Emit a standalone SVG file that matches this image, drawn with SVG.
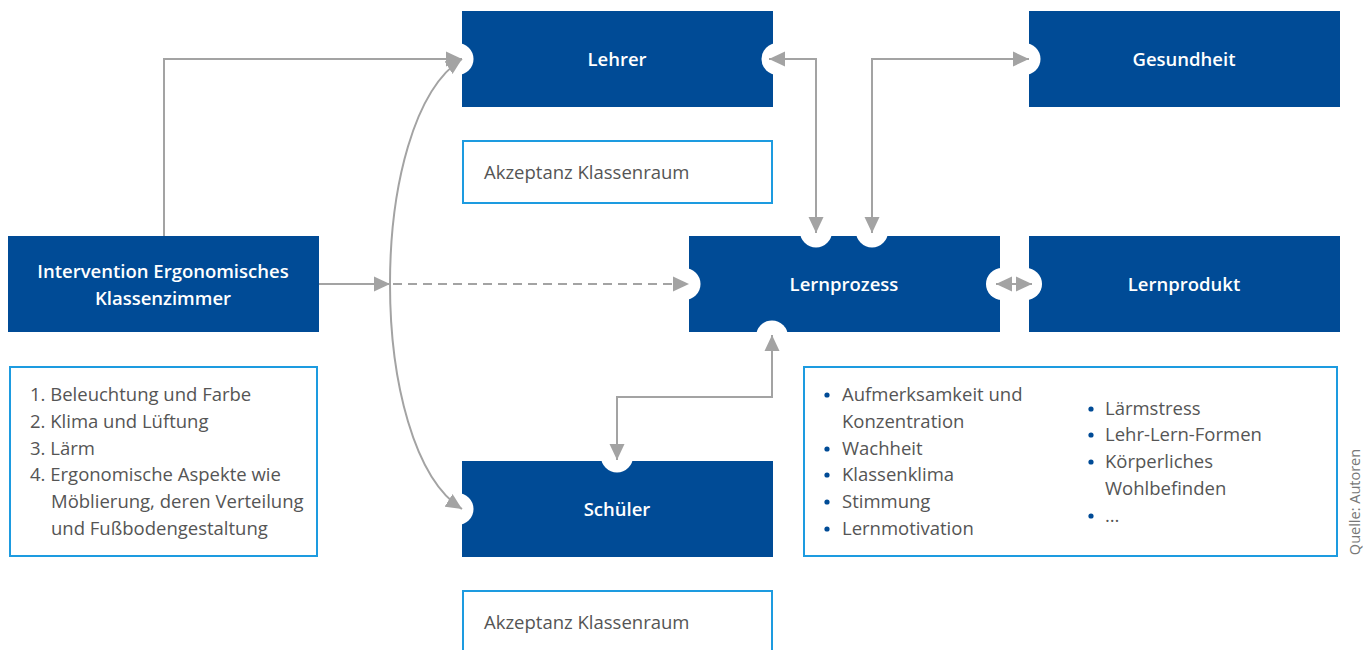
<svg xmlns="http://www.w3.org/2000/svg" width="1371" height="650" viewBox="0 0 1371 650">
<style>
.box{fill:#004b96}
.notch{fill:#fff}
.lbl{fill:#fff;font-family:"Open Sans","Noto Sans",sans-serif;font-weight:600;font-size:18.5px;text-anchor:middle}
.info{fill:#fff;stroke:#1d9be0;stroke-width:2}
.txt{fill:#555;font-family:"Open Sans","Noto Sans",sans-serif;font-size:18.5px}
.bul{fill:#004b96}
.con{fill:none;stroke:#a3a3a3;stroke-width:2}
.dash{stroke-dasharray:9 6}
.src{fill:#777;font-family:"Open Sans","Noto Sans",sans-serif;font-size:14.5px;text-anchor:middle}
</style>
<defs>
<marker id="ah" viewBox="0 0 16 16" refX="16" refY="8" markerWidth="16" markerHeight="16" markerUnits="userSpaceOnUse" orient="auto-start-reverse">
<path d="M0,0.5 L16,8 L0,15.5 z" fill="#a3a3a3"/>
</marker>
</defs>
<rect width="1371" height="650" fill="#fff"/>

<g id="lehrer">
<rect class="box" x="462" y="11" width="311" height="96"/>
<circle class="notch" cx="457.5" cy="59" r="16"/>
<circle class="notch" cx="777.5" cy="59" r="16"/>
<text class="lbl" x="617" y="65.5">Lehrer</text>
</g>
<g id="gesundheit">
<rect class="box" x="1029" y="11" width="311" height="96"/>
<circle class="notch" cx="1024.5" cy="59" r="16"/>
<text class="lbl" x="1184" y="65.5">Gesundheit</text>
</g>
<g id="akzeptanz-lehrer">
<rect class="info" x="463" y="141" width="309" height="62"/>
<text class="txt" x="484" y="179">Akzeptanz Klassenraum</text>
</g>
<g id="intervention">
<rect class="box" x="8" y="236" width="311" height="96"/>
<text class="lbl" x="163" y="277.5">Intervention Ergonomisches</text>
<text class="lbl" x="163" y="304.5">Klassenzimmer</text>
</g>
<g id="lernprozess">
<rect class="box" x="689" y="236" width="311" height="96"/>
<circle class="notch" cx="816" cy="231.5" r="16"/>
<circle class="notch" cx="872" cy="231.5" r="16"/>
<circle class="notch" cx="684.5" cy="284" r="16"/>
<circle class="notch" cx="1002" cy="284" r="16"/>
<circle class="notch" cx="772" cy="336.5" r="16"/>
<text class="lbl" x="844" y="290.5">Lernprozess</text>
</g>
<g id="lernprodukt">
<rect class="box" x="1029" y="236" width="311" height="96"/>
<circle class="notch" cx="1026" cy="284" r="16"/>
<text class="lbl" x="1184" y="290.5">Lernprodukt</text>
</g>
<g id="massnahmen">
<rect class="info" x="10" y="367" width="307" height="189"/>
<text class="txt" x="30" y="401">1. Beleuchtung und Farbe</text>
<text class="txt" x="30" y="428">2. Klima und Lüftung</text>
<text class="txt" x="30" y="455">3. Lärm</text>
<text class="txt" x="30" y="481">4. Ergonomische Aspekte wie</text>
<text class="txt" x="51" y="508">Möblierung, deren Verteilung</text>
<text class="txt" x="51" y="535">und Fußbodengestaltung</text>
</g>
<g id="faktoren">
<rect class="info" x="804" y="367" width="533" height="189"/>
<circle class="bul" cx="827" cy="395" r="2.6"/>
<text class="txt" x="842" y="401">Aufmerksamkeit und</text>
<text class="txt" x="842" y="428">Konzentration</text>
<circle class="bul" cx="827" cy="449" r="2.6"/>
<text class="txt" x="842" y="455">Wachheit</text>
<circle class="bul" cx="827" cy="475" r="2.6"/>
<text class="txt" x="842" y="481">Klassenklima</text>
<circle class="bul" cx="827" cy="502" r="2.6"/>
<text class="txt" x="842" y="508">Stimmung</text>
<circle class="bul" cx="827" cy="529" r="2.6"/>
<text class="txt" x="842" y="535">Lernmotivation</text>
<circle class="bul" cx="1091" cy="409" r="2.6"/>
<text class="txt" x="1105" y="415">Lärmstress</text>
<circle class="bul" cx="1091" cy="435" r="2.6"/>
<text class="txt" x="1105" y="441">Lehr-Lern-Formen</text>
<circle class="bul" cx="1091" cy="462" r="2.6"/>
<text class="txt" x="1105" y="468">Körperliches</text>
<text class="txt" x="1105" y="495">Wohlbefinden</text>
<circle class="bul" cx="1091" cy="516" r="2.6"/>
<text class="txt" x="1105" y="522">…</text>
</g>
<g id="schueler">
<rect class="box" x="462" y="461" width="311" height="96"/>
<circle class="notch" cx="457.5" cy="509" r="16"/>
<circle class="notch" cx="617" cy="456.5" r="16"/>
<text class="lbl" x="617" y="515.5">Schüler</text>
</g>
<g id="akzeptanz-schueler">
<rect class="info" x="463" y="591" width="309" height="70"/>
<text class="txt" x="484" y="629">Akzeptanz Klassenraum</text>
</g>
<g id="quelle">
<text class="src" transform="translate(1360,502) rotate(-90)">Quelle: Autoren</text>
</g>

<g id="connectors">
<path class="con" d="M164,236 V59 H462" marker-end="url(#ah)"/>
<path class="con" d="M319,284 H390" marker-end="url(#ah)"/>
<path class="con dash" d="M393,284 H689" marker-end="url(#ah)"/>
<path class="con" d="M462,59 C366,120 366,448 462,509" marker-start="url(#ah)" marker-end="url(#ah)"/>
<path class="con" d="M769,59 H816 V233" marker-start="url(#ah)" marker-end="url(#ah)"/>
<path class="con" d="M872,233 V59 H1029" marker-start="url(#ah)" marker-end="url(#ah)"/>
<path class="con" d="M996,284 H1032" marker-start="url(#ah)" marker-end="url(#ah)"/>
<path class="con" d="M772,335 V397 H617 V460" marker-start="url(#ah)" marker-end="url(#ah)"/>
</g>
</svg>
